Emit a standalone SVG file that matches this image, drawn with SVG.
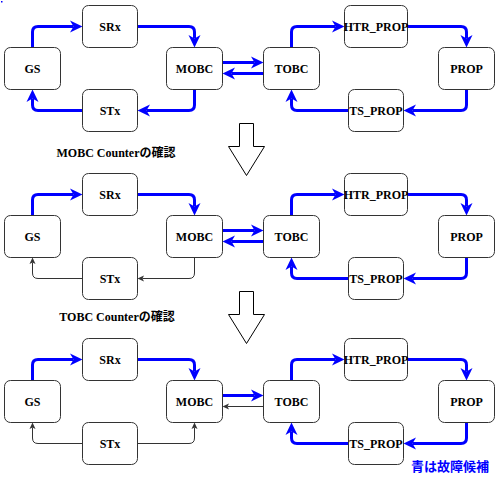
<svg xmlns="http://www.w3.org/2000/svg" width="499" height="478" viewBox="0 0 499 478">
<style>
.box{fill:#fff;stroke:#333;stroke-width:1}
.lbl{font-family:'Liberation Serif','Noto Sans CJK JP',serif;font-weight:bold;font-size:12px;fill:#000;text-anchor:middle}
.jp{font-family:'Noto Sans CJK JP',sans-serif}
.blue{fill:none;stroke:#0000FF;stroke-width:3;marker-end:url(#ab)}
.thin{fill:none;stroke:#333;stroke-width:1;marker-end:url(#at)}
.blk{fill:#fff;stroke:#000;stroke-width:1}
</style>
<defs>
<marker id="ab" markerUnits="userSpaceOnUse" markerWidth="20" markerHeight="20" refX="0" refY="0" orient="auto" overflow="visible">
<path d="M-3.5,-6 L9,0 L-3.5,6 L0,0 Z" fill="#0000FF"/>
</marker>
<marker id="at" markerUnits="userSpaceOnUse" markerWidth="10" markerHeight="10" refX="0" refY="0" orient="auto" overflow="visible">
<path d="M-1.5,-3 L5,0 L-1.5,3 L0,0 Z" fill="#333"/>
</marker>
</defs>
<rect x="1" y="1" width="1.5" height="1.5" fill="#0000FF"/>

<g id="connectors">
<path class="blue" d="M32.5,47.5 V32 Q32.5,26.5 38,26.5 H73.5"/>
<path class="blue" d="M137.5,26.5 H189 Q194.5,26.5 194.5,32 V38.5"/>
<path class="blue" d="M194.5,89.5 V105 Q194.5,110.5 189,110.5 H146.5"/>
<path class="blue" d="M82.5,110.5 H38 Q32.5,110.5 32.5,105 V98.5"/>
<path class="blue" d="M222.5,62.5 H254.5"/>
<path class="blue" d="M263.5,73.5 H231.5"/>
<path class="blue" d="M291.5,47.5 V32 Q291.5,26.5 297,26.5 H335.5"/>
<path class="blue" d="M407.5,26.5 H461 Q466.5,26.5 466.5,32 V38.5"/>
<path class="blue" d="M466.5,89.5 V105 Q466.5,110.5 461,110.5 H412.5"/>
<path class="blue" d="M348.5,110.5 H297 Q291.5,110.5 291.5,105 V98.5"/>
<path class="blue" d="M32.5,215.5 V200 Q32.5,194.5 38,194.5 H73.5"/>
<path class="blue" d="M137.5,194.5 H189 Q194.5,194.5 194.5,200 V206.5"/>
<path class="thin" d="M194.5,257.5 V273 Q194.5,278.5 189,278.5 H142.5"/>
<path class="thin" d="M82.5,278.5 H38 Q32.5,278.5 32.5,273 V262.5"/>
<path class="blue" d="M222.5,230.5 H254.5"/>
<path class="blue" d="M263.5,241.5 H231.5"/>
<path class="blue" d="M291.5,215.5 V200 Q291.5,194.5 297,194.5 H335.5"/>
<path class="blue" d="M407.5,194.5 H461 Q466.5,194.5 466.5,200 V206.5"/>
<path class="blue" d="M466.5,257.5 V273 Q466.5,278.5 461,278.5 H412.5"/>
<path class="blue" d="M348.5,278.5 H297 Q291.5,278.5 291.5,273 V266.5"/>
<path class="blue" d="M32.5,380.5 V365 Q32.5,359.5 38,359.5 H73.5"/>
<path class="blue" d="M137.5,359.5 H189 Q194.5,359.5 194.5,365 V371.5"/>
<path class="thin" d="M137.5,443.5 H189 Q194.5,443.5 194.5,438 V427.5"/>
<path class="thin" d="M82.5,443.5 H38 Q32.5,443.5 32.5,438 V427.5"/>
<path class="blue" d="M222.5,395.5 H254.5"/>
<path class="thin" d="M263.5,406.5 H227.5"/>
<path class="blue" d="M291.5,380.5 V365 Q291.5,359.5 297,359.5 H335.5"/>
<path class="blue" d="M407.5,359.5 H461 Q466.5,359.5 466.5,365 V371.5"/>
<path class="blue" d="M466.5,422.5 V438 Q466.5,443.5 461,443.5 H412.5"/>
<path class="blue" d="M348.5,443.5 H297 Q291.5,443.5 291.5,438 V431.5"/>
</g>

<g id="gs1"><rect class="box" x="4.5" y="47.5" width="56" height="42" rx="6"/><text class="lbl" x="32.5" y="72.5">GS</text></g>
<g id="srx1"><rect class="box" x="82.5" y="5.5" width="55" height="42" rx="6"/><text class="lbl" x="110" y="30.5">SRx</text></g>
<g id="mobc1"><rect class="box" x="166.5" y="47.5" width="56" height="42" rx="6"/><text class="lbl" x="194.5" y="72.5">MOBC</text></g>
<g id="stx1"><rect class="box" x="82.5" y="89.5" width="55" height="42" rx="6"/><text class="lbl" x="110" y="114.5">STx</text></g>
<g id="tobc1"><rect class="box" x="263.5" y="47.5" width="56" height="42" rx="6"/><text class="lbl" x="291.5" y="72.5">TOBC</text></g>
<g id="htr1"><rect class="box" x="344.5" y="5.5" width="63" height="42" rx="6"/><text class="lbl" x="376" y="30.5">HTR_PROP</text></g>
<g id="prop1"><rect class="box" x="438.5" y="47.5" width="56" height="42" rx="6"/><text class="lbl" x="466.5" y="72.5">PROP</text></g>
<g id="ts1"><rect class="box" x="348.5" y="89.5" width="55" height="42" rx="6"/><text class="lbl" x="376" y="114.5">TS_PROP</text></g>

<g id="gs2"><rect class="box" x="4.5" y="215.5" width="56" height="42" rx="6"/><text class="lbl" x="32.5" y="240.5">GS</text></g>
<g id="srx2"><rect class="box" x="82.5" y="173.5" width="55" height="42" rx="6"/><text class="lbl" x="110" y="198.5">SRx</text></g>
<g id="mobc2"><rect class="box" x="166.5" y="215.5" width="56" height="42" rx="6"/><text class="lbl" x="194.5" y="240.5">MOBC</text></g>
<g id="stx2"><rect class="box" x="82.5" y="257.5" width="55" height="42" rx="6"/><text class="lbl" x="110" y="282.5">STx</text></g>
<g id="tobc2"><rect class="box" x="263.5" y="215.5" width="56" height="42" rx="6"/><text class="lbl" x="291.5" y="240.5">TOBC</text></g>
<g id="htr2"><rect class="box" x="344.5" y="173.5" width="63" height="42" rx="6"/><text class="lbl" x="376" y="198.5">HTR_PROP</text></g>
<g id="prop2"><rect class="box" x="438.5" y="215.5" width="56" height="42" rx="6"/><text class="lbl" x="466.5" y="240.5">PROP</text></g>
<g id="ts2"><rect class="box" x="348.5" y="257.5" width="55" height="42" rx="6"/><text class="lbl" x="376" y="282.5">TS_PROP</text></g>

<g id="gs3"><rect class="box" x="4.5" y="380.5" width="56" height="42" rx="6"/><text class="lbl" x="32.5" y="405.5">GS</text></g>
<g id="srx3"><rect class="box" x="82.5" y="338.5" width="55" height="42" rx="6"/><text class="lbl" x="110" y="363.5">SRx</text></g>
<g id="mobc3"><rect class="box" x="166.5" y="380.5" width="56" height="42" rx="6"/><text class="lbl" x="194.5" y="405.5">MOBC</text></g>
<g id="stx3"><rect class="box" x="82.5" y="422.5" width="55" height="42" rx="6"/><text class="lbl" x="110" y="447.5">STx</text></g>
<g id="tobc3"><rect class="box" x="263.5" y="380.5" width="56" height="42" rx="6"/><text class="lbl" x="291.5" y="405.5">TOBC</text></g>
<g id="htr3"><rect class="box" x="344.5" y="338.5" width="63" height="42" rx="6"/><text class="lbl" x="376" y="363.5">HTR_PROP</text></g>
<g id="prop3"><rect class="box" x="438.5" y="380.5" width="56" height="42" rx="6"/><text class="lbl" x="466.5" y="405.5">PROP</text></g>
<g id="ts3"><rect class="box" x="348.5" y="422.5" width="55" height="42" rx="6"/><text class="lbl" x="376" y="447.5">TS_PROP</text></g>

<g id="arrow1"><polygon class="blk" points="239.5,123.5 253.5,123.5 253.5,146.5 264.5,146.5 246.5,175.5 228.5,146.5 239.5,146.5"/></g>
<g id="arrow2"><polygon class="blk" points="239.5,291.5 253.5,291.5 253.5,314.5 264.5,314.5 246.5,343.5 228.5,314.5 239.5,314.5"/></g>

<g id="label1"><text class="lbl" x="116" y="157">MOBC Counter<tspan class="jp">の確認</tspan></text></g>
<g id="label2"><text class="lbl" x="117" y="321">TOBC Counter<tspan class="jp">の確認</tspan></text></g>
<g id="legend"><text x="450" y="471" font-family="Noto Sans CJK JP, sans-serif" font-weight="bold" font-size="13" fill="#0000FF" text-anchor="middle">青は故障候補</text></g>
</svg>
